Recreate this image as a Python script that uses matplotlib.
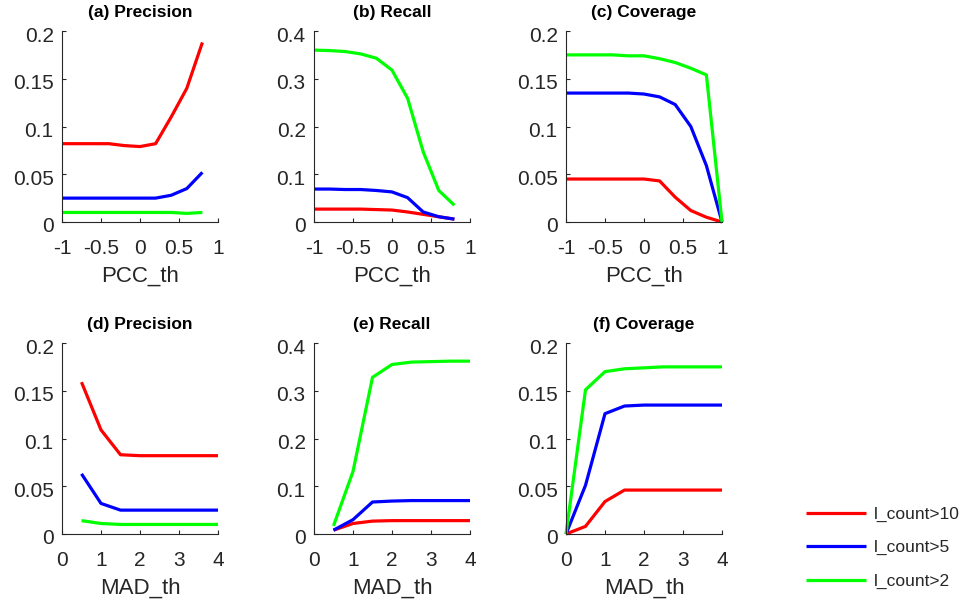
import matplotlib
matplotlib.use("Agg")
import matplotlib.pyplot as plt
from matplotlib.ticker import FuncFormatter
from matplotlib.transforms import ScaledTranslation

plt.rcParams['font.family'] = ['Liberation Sans', 'DejaVu Sans']

# ---------------- data ----------------
pcc_x = [-1, -0.8, -0.6, -0.4, -0.2, 0, 0.2, 0.4, 0.6, 0.8]
pcc_x_cov = [-1, -0.8, -0.6, -0.4, -0.2, 0, 0.2, 0.4, 0.6, 0.8, 1.0]
mad_x = [0.5, 1, 1.5, 2, 2.5, 3, 3.5, 4]
mad_x_cov = [0, 0.5, 1, 1.5, 2, 2.5, 3, 3.5, 4]

series_labels = ["l_count>10", "l_count>5", "l_count>2"]
series_colors = ["#ff0000", "#0000ff", "#00ff00"]

# (a) Precision vs PCC_th
prec_pcc_10 = [0.082, 0.082, 0.082, 0.082, 0.080, 0.079, 0.082, 0.110, 0.140, 0.188]
prec_pcc_5 = [0.025, 0.025, 0.025, 0.025, 0.025, 0.025, 0.025, 0.028, 0.035, 0.052]
prec_pcc_2 = [0.010, 0.010, 0.010, 0.010, 0.010, 0.010, 0.010, 0.010, 0.009, 0.010]

# (b) Recall vs PCC_th
rec_pcc_10 = [0.027, 0.027, 0.027, 0.027, 0.026, 0.025, 0.021, 0.016, 0.011, 0.006]
rec_pcc_5 = [0.069, 0.069, 0.068, 0.068, 0.066, 0.063, 0.051, 0.021, 0.011, 0.006]
rec_pcc_2 = [0.360, 0.359, 0.357, 0.352, 0.343, 0.318, 0.259, 0.147, 0.066, 0.035]

# (c) Coverage vs PCC_th
cov_pcc_10 = [0.045, 0.045, 0.045, 0.045, 0.045, 0.045, 0.043, 0.026, 0.012, 0.005, 0.0]
cov_pcc_5 = [0.135, 0.135, 0.135, 0.135, 0.135, 0.134, 0.131, 0.123, 0.100, 0.059, 0.0]
cov_pcc_2 = [0.175, 0.175, 0.175, 0.175, 0.174, 0.174, 0.171, 0.167, 0.161, 0.154, 0.0]

# (d) Precision vs MAD_th
prec_mad_10 = [0.159, 0.109, 0.083, 0.082, 0.082, 0.082, 0.082, 0.082]
prec_mad_5 = [0.063, 0.032, 0.025, 0.025, 0.025, 0.025, 0.025, 0.025]
prec_mad_2 = [0.014, 0.011, 0.010, 0.010, 0.010, 0.010, 0.010, 0.010]

# (e) Recall vs MAD_th
rec_mad_10 = [0.008, 0.022, 0.027, 0.028, 0.028, 0.028, 0.028, 0.028]
rec_mad_5 = [0.008, 0.030, 0.067, 0.069, 0.070, 0.070, 0.070, 0.070]
rec_mad_2 = [0.017, 0.131, 0.328, 0.355, 0.360, 0.361, 0.362, 0.362]

# (f) Coverage vs MAD_th
cov_mad_10 = [0.0, 0.008, 0.034, 0.046, 0.046, 0.046, 0.046, 0.046, 0.046]
cov_mad_5 = [0.0, 0.051, 0.126, 0.134, 0.135, 0.135, 0.135, 0.135, 0.135]
cov_mad_2 = [0.0, 0.151, 0.170, 0.173, 0.174, 0.175, 0.175, 0.175, 0.175]

pcc_ticks = [-1, -0.5, 0, 0.5, 1]
mad_ticks = [0, 1, 2, 3, 4]

panels = [
    ("(a) Precision", pcc_x, [prec_pcc_10, prec_pcc_5, prec_pcc_2], "PCC_th", (-1, 1), pcc_ticks, 0.2, [0, 0.05, 0.1, 0.15, 0.2]),
    ("(b) Recall", pcc_x, [rec_pcc_10, rec_pcc_5, rec_pcc_2], "PCC_th", (-1, 1), pcc_ticks, 0.4, [0, 0.1, 0.2, 0.3, 0.4]),
    ("(c) Coverage", pcc_x_cov, [cov_pcc_10, cov_pcc_5, cov_pcc_2], "PCC_th", (-1, 1), pcc_ticks, 0.2, [0, 0.05, 0.1, 0.15, 0.2]),
    ("(d) Precision", mad_x, [prec_mad_10, prec_mad_5, prec_mad_2], "MAD_th", (0, 4), mad_ticks, 0.2, [0, 0.05, 0.1, 0.15, 0.2]),
    ("(e) Recall", mad_x, [rec_mad_10, rec_mad_5, rec_mad_2], "MAD_th", (0, 4), mad_ticks, 0.4, [0, 0.1, 0.2, 0.3, 0.4]),
    ("(f) Coverage", mad_x_cov, [cov_mad_10, cov_mad_5, cov_mad_2], "MAD_th", (0, 4), mad_ticks, 0.2, [0, 0.05, 0.1, 0.15, 0.2]),
]

W, H = 967, 600
fig = plt.figure(figsize=(W / 100, H / 100), dpi=100)

lefts = [62, 314, 566]
tops = [31, 343]
aw, ah = 156, 191

fmt = FuncFormatter(lambda v, p: "%g" % v)
ylab_shift = ScaledTranslation(0, -3 / 100, fig.dpi_scale_trans)
handles = []
for i, (title, xs, ys_list, xlabel, xlim, xticks, ymax, yticks) in enumerate(panels):
    r, c = divmod(i, 3)
    ax = fig.add_axes([lefts[c] / W, 1 - (tops[r] + ah) / H, aw / W, ah / H])
    for ys, col, lab in zip(ys_list, series_colors, series_labels):
        ln, = ax.plot(xs, ys, color=col, lw=2.3, label=lab, solid_capstyle='butt', clip_on=False)
        if i == 0:
            handles.append(ln)
    ax.set_xlim(*xlim)
    ax.set_ylim(0, ymax)
    ax.set_xticks(xticks)
    ax.set_yticks(yticks)
    ax.xaxis.set_major_formatter(fmt)
    ax.yaxis.set_major_formatter(fmt)
    for s in ("top", "right"):
        ax.spines[s].set_visible(False)
    for s in ("left", "bottom"):
        ax.spines[s].set_linewidth(0.8)
        ax.spines[s].set_color("#262626")
    ax.tick_params(direction="in", length=3, width=0.8, labelsize=15, colors="#262626",
                   labelcolor="#262626")
    ax.tick_params(axis="y", pad=6)
    ax.tick_params(axis="x", pad=12)
    for lbl in ax.get_yticklabels():
        lbl.set_transform(lbl.get_transform() + ylab_shift)
    ax.set_title(title, fontsize=12.5, fontweight="bold", pad=10)
    ax.set_xlabel(xlabel, fontsize=16, labelpad=6, color="#262626")

fig.legend(handles, series_labels, loc="upper left", bbox_to_anchor=(790 / W, 1 - 491 / H),
           frameon=False, fontsize=12.5, handlelength=3.5, handletextpad=0.45, labelspacing=1.05,
           labelcolor="#262626")

fig.savefig("out.png", dpi=100)
